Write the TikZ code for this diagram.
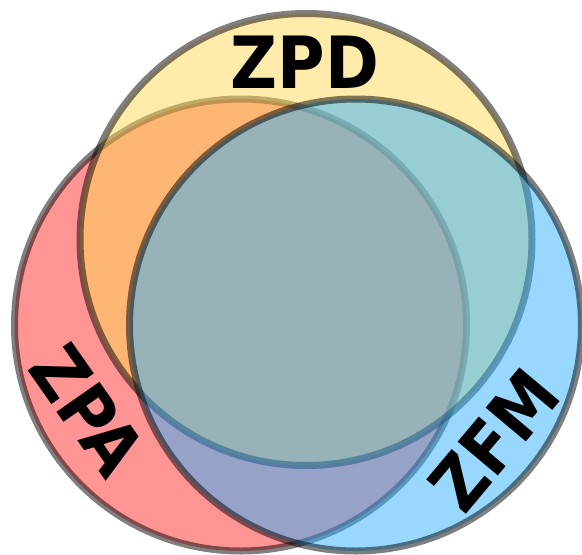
\documentclass[tikz,border=0pt]{standalone}
\usepackage{fontspec}
\usepackage{tikz}
\usepackage{xcolor}
\newfontfamily\vennfont{DejaVu Sans Condensed}
\definecolor{zpacol}{RGB}{255,41,41}
\definecolor{zpdcol}{RGB}{255,217,85}
\definecolor{zfmcol}{RGB}{49,177,255}
\tikzset{
  setcircle/.style={draw=black, line width=0.14cm, draw opacity=0.5,
                    fill opacity=0.5},
  setlabel/.style={font=\vennfont\bfseries\fontsize{41}{41}\selectfont,
                   inner sep=0pt},
}

\begin{document}
\begin{tikzpicture}
  \useasboundingbox (0,0) rectangle (11.64,-11.08);
  % Set centres
  \coordinate (czpa) at (4.81,-6.50);
  \coordinate (czpd) at (6.12,-4.79);
  \coordinate (czfm) at (7.11,-6.50);

  % Circles (red first, then yellow, then blue on top)
  \draw[setcircle, fill=zpacol] (czpa) circle (4.52);
  \draw[setcircle, fill=zpdcol] (czpd) circle (4.52);
  \draw[setcircle, fill=zfmcol] (czfm) circle (4.52);

  % Labels
  \node[setlabel] (zpd) at (6.10,-1.24) {ZPD};
  \node[setlabel, rotate=-55] (zpa) at (1.76,-8.20) {ZPA};
  \node[setlabel, rotate=50] (zfm) at (9.88,-8.80) {ZFM};
\end{tikzpicture}
\end{document}
